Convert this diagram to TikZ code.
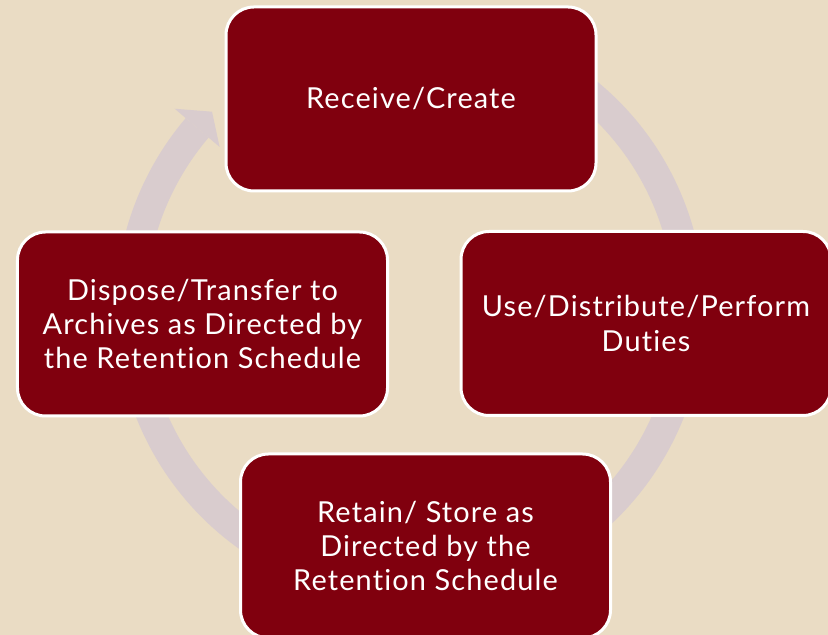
\documentclass[tikz,border=0pt]{standalone}
\usepackage{fontspec}
\setmainfont{Lato}[LetterSpace=4, Ligatures={NoCommon}]
\definecolor{bgbeige}{RGB}{234,220,196}
\definecolor{boxred}{RGB}{128,0,14}
\definecolor{arcgray}{RGB}{217,204,206}

\begin{document}
\begin{tikzpicture}[x=1bp, y=1bp,
    stage/.style={draw=white, line width=3bp, fill=boxred, rounded corners=28bp,
        minimum width=370bp, minimum height=184bp, inner sep=0pt,
        text=white, align=center, font=\fontsize{29}{34.5}\selectfont}]
    \fill [bgbeige] (0,0) rectangle (828,635);
    \useasboundingbox (0,0) rectangle (828,635);
    % circular arrow behind the stages
    \begin{scope}[shift={(410,326)}]
        \draw [arcgray, line width=30bp] (60:279.5) arc (60:-220.4:279.5);
        \fill [arcgray] (139.6:309) -- (135.1:279.5) -- (139.6:250) -- cycle;
    \end{scope}
    \node [stage] (receive) at (411,536) {Receive/Create};
    \node [stage] (use) at (646,311.5) {Use/Distribute/Perform\\Duties};
    \node [stage] (retain) at (425.5,89) {Retain/ Store as\\Directed by the\\Retention Schedule};
    \node [stage] (dispose) at (202.5,311) {Dispose/Transfer to\\Archives as Directed by\\the Retention Schedule};
\end{tikzpicture}
\end{document}
